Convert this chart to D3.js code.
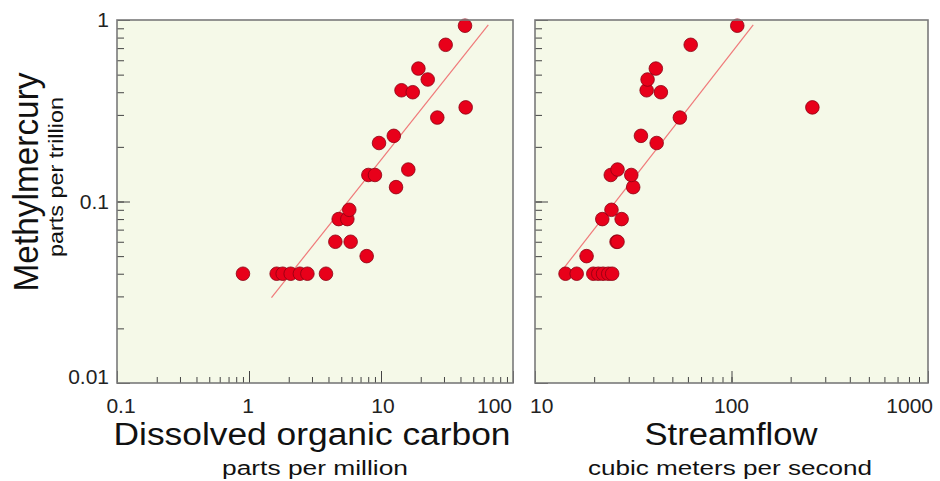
<!DOCTYPE html>
<html>
<head>
<meta charset="utf-8">
<script src="https://cdn.jsdelivr.net/npm/d3@7"></script>
<style>
  body { margin: 0; background: #fff; }
  svg { display: block; font-family: "Liberation Sans", Arial, sans-serif; }
</style>
</head>
<body>
<svg id="chart"></svg>
<script>
// one entry per sample, same order in every array
const doc  = [0.9, 1.62, 1.8, 2.07, 2.43, 2.77, 3.83, 4.51, 5.89, 7.79, 4.78, 5.56, 5.75, 13.0,
              8.02, 9.0, 16.1, 9.66, 12.5, 26.7, 43.8, 14.3, 17.4, 22.6, 19.2, 30.9, 43.3];
const flow = [14.3, 16.3, 19.8, 21, 22.2, 23.6, 24.7, 26, 26.3, 18.3, 22, 27.6, 24.5, 31.6,
              24.3, 30.9, 26.3, 41.6, 34.6, 54.6, 258, 37, 43.7, 37.4, 41.2, 62, 107];
const mehg = [0.04, 0.04, 0.04, 0.04, 0.04, 0.04, 0.04, 0.06, 0.06, 0.05, 0.08, 0.08, 0.09, 0.12,
              0.14, 0.14, 0.15, 0.21, 0.23, 0.29, 0.33, 0.41, 0.40, 0.47, 0.54, 0.73, 0.93];

// regression lines, end points
const docFitX = [1.48, 65];
const docFitY = [0.0295, 0.94];
const flowFitX = [13.7, 129];
const flowFitY = [0.0416, 0.94];

const yTicks = [0.01, 0.1, 1];
const yTickLabels = ["0.01", "0.1", "1"];
const docTicks = [0.1, 1, 10, 100];
const docTickLabels = ["0.1", "1", "10", "100"];
const flowTicks = [10, 100, 1000];
const flowTickLabels = ["10", "100", "1000"];

const width = 940;
const height = 481;
const plotTop = 20;
const plotBottom = 383;

let svg = d3.select("#chart")
  .attr("width", width)
  .attr("height", height);

const y = d3.scaleLog().domain([0.01, 1]).range([plotBottom, plotTop]);
const xDoc = d3.scaleLog().domain([0.1, 100]).range([117, 513]);
const xFlow = d3.scaleLog().domain([10, 1000]).range([535, 928]);

function drawPanel(x, xs, fitX, fitY, ticks, tickLabels, labelPos) {
  const [x0, x1] = x.range();
  const g = svg.append("g");

  g.append("rect")
    .attr("x", x0).attr("y", plotTop)
    .attr("width", x1 - x0).attr("height", plotBottom - plotTop)
    .style("fill", "#f5f9e8");

  // inward ticks, minor then major
  const minorX = d3.axisBottom(x).tickValues(x.ticks()).tickSize(-6).tickFormat("");
  const majorX = d3.axisBottom(x).tickValues(ticks).tickSize(-12).tickFormat("");
  const minorY = d3.axisLeft(y).tickValues(y.ticks()).tickSize(-7).tickFormat("");
  const majorY = d3.axisLeft(y).tickValues(yTicks).tickSize(-13).tickFormat("");
  [minorX, majorX].forEach(ax => {
    g.append("g").attr("transform", `translate(0,${plotBottom})`).call(ax)
      .call(s => s.select(".domain").remove())
      .selectAll("line").style("stroke", "#444");
  });
  [minorY, majorY].forEach(ax => {
    g.append("g").attr("transform", `translate(${x0},0)`).call(ax)
      .call(s => s.select(".domain").remove())
      .selectAll("line").style("stroke", "#444");
  });

  g.append("line")
    .attr("x1", x(fitX[0])).attr("y1", y(fitY[0]))
    .attr("x2", x(fitX[1])).attr("y2", y(fitY[1]))
    .style("stroke", "#f07a7a")
    .style("stroke-width", 1.2);

  g.selectAll("circle.pt")
    .data(xs.map((v, i) => [v, mehg[i]]))
    .enter().append("circle")
    .attr("class", "pt")
    .attr("cx", d => x(d[0]))
    .attr("cy", d => y(d[1]))
    .attr("r", 6.8)
    .style("fill", "#e8001a")
    .style("stroke", "#8a0012")
    .style("stroke-width", 0.8);

  g.append("rect")
    .attr("x", x0).attr("y", plotTop)
    .attr("width", x1 - x0).attr("height", plotBottom - plotTop)
    .style("fill", "none")
    .style("stroke", "#7a7a7a")
    .style("stroke-width", 1.6);

  // tick labels under the axis
  g.selectAll("text.xt")
    .data(ticks)
    .enter().append("text")
    .attr("class", "xt")
    .attr("x", (d, i) => x(d) + labelPos[i][0])
    .attr("y", 413)
    .attr("text-anchor", (d, i) => labelPos[i][1])
    .style("font-size", "21px")
    .style("fill", "#222")
    .text((d, i) => tickLabels[i]);
}

drawPanel(xDoc, doc, docFitX, docFitY, docTicks, docTickLabels,
  [[4, "middle"], [-1, "middle"], [2, "middle"], [-1, "end"]]);
drawPanel(xFlow, flow, flowFitX, flowFitY, flowTicks, flowTickLabels,
  [[-5, "start"], [0, "middle"], [5, "end"]]);

// y tick labels, left panel only
svg.selectAll("text.yt")
  .data(yTicks)
  .enter().append("text")
  .attr("class", "yt")
  .attr("x", 109)
  .attr("y", d => Math.min(Math.max(y(d) + 7, 24), 384))
  .attr("text-anchor", "end")
  .style("font-size", "21px")
  .style("fill", "#222")
  .text((d, i) => yTickLabels[i]);

function title(txt, cx, base, size, len, rotate) {
  svg.append("text")
    .attr("transform", rotate ? `translate(${cx},${base}) rotate(-90)` : `translate(${cx},${base})`)
    .attr("text-anchor", "middle")
    .attr("textLength", len)
    .attr("lengthAdjust", "spacingAndGlyphs")
    .style("font-size", size + "px")
    .style("fill", "#111")
    .text(txt);
}

title("Dissolved organic carbon", 312, 445, 31, 397);
title("parts per million", 315, 475, 20, 186);
title("Streamflow", 731, 445, 31, 173);
title("cubic meters per second", 730, 475, 20, 284);
title("Methylmercury", 38, 182, 35, 219, true);
title("parts per trillion", 63, 177, 21, 160, true);
</script>
</body>
</html>
